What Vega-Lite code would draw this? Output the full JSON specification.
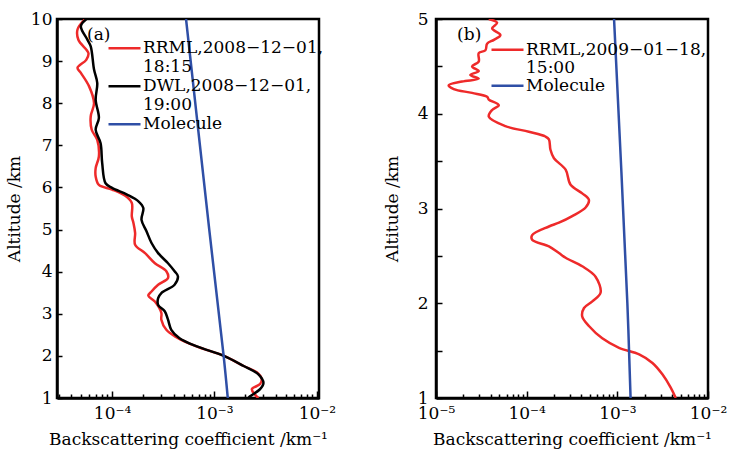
{
  "$schema": "https://vega.github.io/schema/vega-lite/v6.json",
  "padding": {"left": 4, "top": 8, "right": 5, "bottom": 5},
  "spacing": 44,
  "config": {
    "font": "DejaVu Serif",
    "view": {"stroke": "black", "strokeWidth": 2.5},
    "axis": {
      "grid": false,
      "labelFont": "DejaVu Serif",
      "titleFont": "DejaVu Serif",
      "labelFontSize": 17,
      "titleFontSize": 17,
      "titleFontWeight": "normal",
      "labelColor": "black",
      "titleColor": "black",
      "domainColor": "black",
      "domainWidth": 2.5,
      "tickColor": "black",
      "tickWidth": 1.5,
      "labelFlush": false,
      "labelOverlap": false
    },
    "legend": {"labelFont": "DejaVu Serif", "labelFontSize": 17, "labelColor": "black", "labelLimit": 400, "gridAlign": "all"}
  },
  "datasets": {
    "a": [
      {"s": "RRML", "alt": 10.0, "v": 5.46e-5},
      {"s": "RRML", "alt": 9.75, "v": 4.6e-5},
      {"s": "RRML", "alt": 9.5, "v": 4.7e-5},
      {"s": "RRML", "alt": 9.19, "v": 5.88e-5},
      {"s": "RRML", "alt": 9.03, "v": 5.6e-5},
      {"s": "RRML", "alt": 8.84, "v": 4.6e-5},
      {"s": "RRML", "alt": 8.72, "v": 4.96e-5},
      {"s": "RRML", "alt": 8.4, "v": 5.97e-5},
      {"s": "RRML", "alt": 8.0, "v": 6.67e-5},
      {"s": "RRML", "alt": 7.69, "v": 6.19e-5},
      {"s": "RRML", "alt": 7.37, "v": 6.33e-5},
      {"s": "RRML", "alt": 7.13, "v": 7.17e-5},
      {"s": "RRML", "alt": 6.74, "v": 7.44e-5},
      {"s": "RRML", "alt": 6.46, "v": 6.92e-5},
      {"s": "RRML", "alt": 6.26, "v": 6.92e-5},
      {"s": "RRML", "alt": 6.06, "v": 7.44e-5},
      {"s": "RRML", "alt": 5.95, "v": 1.0e-4},
      {"s": "RRML", "alt": 5.8, "v": 1.346e-4},
      {"s": "RRML", "alt": 5.63, "v": 1.56e-4},
      {"s": "RRML", "alt": 5.31, "v": 1.56e-4},
      {"s": "RRML", "alt": 5.15, "v": 1.62e-4},
      {"s": "RRML", "alt": 4.92, "v": 1.68e-4},
      {"s": "RRML", "alt": 4.64, "v": 1.68e-4},
      {"s": "RRML", "alt": 4.44, "v": 2.1e-4},
      {"s": "RRML", "alt": 4.2, "v": 2.62e-4},
      {"s": "RRML", "alt": 4.01, "v": 3.39e-4},
      {"s": "RRML", "alt": 3.85, "v": 3.52e-4},
      {"s": "RRML", "alt": 3.69, "v": 2.82e-4},
      {"s": "RRML", "alt": 3.53, "v": 2.43e-4},
      {"s": "RRML", "alt": 3.43, "v": 2.26e-4},
      {"s": "RRML", "alt": 3.29, "v": 2.62e-4},
      {"s": "RRML", "alt": 3.02, "v": 3.03e-4},
      {"s": "RRML", "alt": 2.86, "v": 3.03e-4},
      {"s": "RRML", "alt": 2.62, "v": 3.39e-4},
      {"s": "RRML", "alt": 2.47, "v": 4.08e-4},
      {"s": "RRML", "alt": 2.31, "v": 5.48e-4},
      {"s": "RRML", "alt": 2.16, "v": 7.94e-4},
      {"s": "RRML", "alt": 2.0, "v": 1.236e-3},
      {"s": "RRML", "alt": 1.76, "v": 1.93e-3},
      {"s": "RRML", "alt": 1.61, "v": 2.59e-3},
      {"s": "RRML", "alt": 1.45, "v": 2.89e-3},
      {"s": "RRML", "alt": 1.33, "v": 2.79e-3},
      {"s": "RRML", "alt": 1.21, "v": 2.32e-3},
      {"s": "RRML", "alt": 1.08, "v": 2.49e-3},
      {"s": "RRML", "alt": 1.0, "v": 2.69e-3},
      {"s": "DWL", "alt": 10.0, "v": 5.62e-5},
      {"s": "DWL", "alt": 9.83, "v": 4.96e-5},
      {"s": "DWL", "alt": 9.51, "v": 5.74e-5},
      {"s": "DWL", "alt": 9.35, "v": 6.19e-5},
      {"s": "DWL", "alt": 8.8, "v": 6.67e-5},
      {"s": "DWL", "alt": 8.48, "v": 7.17e-5},
      {"s": "DWL", "alt": 8.08, "v": 6.92e-5},
      {"s": "DWL", "alt": 7.65, "v": 7.44e-5},
      {"s": "DWL", "alt": 7.37, "v": 6.92e-5},
      {"s": "DWL", "alt": 7.05, "v": 7.73e-5},
      {"s": "DWL", "alt": 6.58, "v": 8.01e-5},
      {"s": "DWL", "alt": 6.1, "v": 8.64e-5},
      {"s": "DWL", "alt": 5.99, "v": 1.0e-4},
      {"s": "DWL", "alt": 5.83, "v": 1.4e-4},
      {"s": "DWL", "alt": 5.67, "v": 1.81e-4},
      {"s": "DWL", "alt": 5.51, "v": 2.02e-4},
      {"s": "DWL", "alt": 5.23, "v": 1.94e-4},
      {"s": "DWL", "alt": 4.96, "v": 2.17e-4},
      {"s": "DWL", "alt": 4.68, "v": 2.43e-4},
      {"s": "DWL", "alt": 4.44, "v": 2.82e-4},
      {"s": "DWL", "alt": 4.2, "v": 3.52e-4},
      {"s": "DWL", "alt": 4.01, "v": 4.08e-4},
      {"s": "DWL", "alt": 3.89, "v": 4.4e-4},
      {"s": "DWL", "alt": 3.69, "v": 4.08e-4},
      {"s": "DWL", "alt": 3.49, "v": 3.03e-4},
      {"s": "DWL", "alt": 3.37, "v": 2.82e-4},
      {"s": "DWL", "alt": 3.21, "v": 2.82e-4},
      {"s": "DWL", "alt": 3.06, "v": 3.27e-4},
      {"s": "DWL", "alt": 2.86, "v": 3.52e-4},
      {"s": "DWL", "alt": 2.62, "v": 3.79e-4},
      {"s": "DWL", "alt": 2.42, "v": 4.56e-4},
      {"s": "DWL", "alt": 2.22, "v": 6.84e-4},
      {"s": "DWL", "alt": 2.0, "v": 1.236e-3},
      {"s": "DWL", "alt": 1.76, "v": 1.93e-3},
      {"s": "DWL", "alt": 1.56, "v": 2.69e-3},
      {"s": "DWL", "alt": 1.36, "v": 3.01e-3},
      {"s": "DWL", "alt": 1.21, "v": 2.79e-3},
      {"s": "DWL", "alt": 1.04, "v": 2.23e-3},
      {"s": "DWL", "alt": 1.0, "v": 2.15e-3},
      {"s": "Molecule", "alt": 1.0, "v": 1.35e-3},
      {"s": "Molecule", "alt": 2.0, "v": 1.23e-3},
      {"s": "Molecule", "alt": 5.0, "v": 8.9e-4},
      {"s": "Molecule", "alt": 10.0, "v": 5.28e-4}
    ],
    "b": [
      {"s": "RRML", "alt": 5.0, "v": 3.82e-5},
      {"s": "RRML", "alt": 4.96, "v": 4.72e-5},
      {"s": "RRML", "alt": 4.9, "v": 4.16e-5},
      {"s": "RRML", "alt": 4.83, "v": 5.13e-5},
      {"s": "RRML", "alt": 4.78, "v": 4.35e-5},
      {"s": "RRML", "alt": 4.74, "v": 3.66e-5},
      {"s": "RRML", "alt": 4.67, "v": 3.51e-5},
      {"s": "RRML", "alt": 4.64, "v": 2.96e-5},
      {"s": "RRML", "alt": 4.55, "v": 2.96e-5},
      {"s": "RRML", "alt": 4.5, "v": 2.5e-5},
      {"s": "RRML", "alt": 4.45, "v": 2.96e-5},
      {"s": "RRML", "alt": 4.41, "v": 2.39e-5},
      {"s": "RRML", "alt": 4.37, "v": 2.96e-5},
      {"s": "RRML", "alt": 4.34, "v": 1.94e-5},
      {"s": "RRML", "alt": 4.3, "v": 1.38e-5},
      {"s": "RRML", "alt": 4.26, "v": 1.57e-5},
      {"s": "RRML", "alt": 4.22, "v": 2.5e-5},
      {"s": "RRML", "alt": 4.18, "v": 3.66e-5},
      {"s": "RRML", "alt": 4.15, "v": 3.82e-5},
      {"s": "RRML", "alt": 4.09, "v": 4.93e-5},
      {"s": "RRML", "alt": 4.04, "v": 4.16e-5},
      {"s": "RRML", "alt": 3.97, "v": 3.82e-5},
      {"s": "RRML", "alt": 3.87, "v": 5.83e-5},
      {"s": "RRML", "alt": 3.81, "v": 1.057e-4},
      {"s": "RRML", "alt": 3.76, "v": 1.61e-4},
      {"s": "RRML", "alt": 3.73, "v": 1.76e-4},
      {"s": "RRML", "alt": 3.62, "v": 1.83e-4},
      {"s": "RRML", "alt": 3.53, "v": 2.0e-4},
      {"s": "RRML", "alt": 3.41, "v": 2.69e-4},
      {"s": "RRML", "alt": 3.25, "v": 3.05e-4},
      {"s": "RRML", "alt": 3.16, "v": 4.1e-4},
      {"s": "RRML", "alt": 3.09, "v": 4.86e-4},
      {"s": "RRML", "alt": 3.01, "v": 4.47e-4},
      {"s": "RRML", "alt": 2.92, "v": 3.18e-4},
      {"s": "RRML", "alt": 2.85, "v": 2.27e-4},
      {"s": "RRML", "alt": 2.81, "v": 1.76e-4},
      {"s": "RRML", "alt": 2.72, "v": 1.15e-4},
      {"s": "RRML", "alt": 2.67, "v": 1.15e-4},
      {"s": "RRML", "alt": 2.6, "v": 1.76e-4},
      {"s": "RRML", "alt": 2.53, "v": 2.27e-4},
      {"s": "RRML", "alt": 2.48, "v": 2.69e-4},
      {"s": "RRML", "alt": 2.39, "v": 4.1e-4},
      {"s": "RRML", "alt": 2.28, "v": 5.75e-4},
      {"s": "RRML", "alt": 2.11, "v": 6.53e-4},
      {"s": "RRML", "alt": 2.02, "v": 5.3e-4},
      {"s": "RRML", "alt": 1.95, "v": 4.29e-4},
      {"s": "RRML", "alt": 1.86, "v": 4.1e-4},
      {"s": "RRML", "alt": 1.76, "v": 4.86e-4},
      {"s": "RRML", "alt": 1.63, "v": 6.82e-4},
      {"s": "RRML", "alt": 1.53, "v": 1.044e-3},
      {"s": "RRML", "alt": 1.46, "v": 1.74e-3},
      {"s": "RRML", "alt": 1.37, "v": 2.44e-3},
      {"s": "RRML", "alt": 1.25, "v": 3.14e-3},
      {"s": "RRML", "alt": 1.11, "v": 3.88e-3},
      {"s": "RRML", "alt": 1.0, "v": 4.41e-3},
      {"s": "Molecule", "alt": 1.0, "v": 1.4e-3},
      {"s": "Molecule", "alt": 2.0, "v": 1.29e-3},
      {"s": "Molecule", "alt": 5.0, "v": 9.2e-4}
    ],
    "labA": [{"label": "(a)", "v": 5.7e-5, "alt": 9.62}],
    "labB": [{"label": "(b)", "v": 1.71e-5, "alt": 4.834}]
  },
  "resolve": {"scale": {"color": "independent"}, "legend": {"color": "independent"}},
  "hconcat": [
    {
      "width": 262,
      "height": 379,
      "layer": [
        {
          "data": {"name": "a"},
          "mark": {"type": "line", "strokeWidth": 2.5, "clip": true, "interpolate": "catmull-rom"},
          "encoding": {
            "x": {
              "field": "v", "type": "quantitative",
              "scale": {"type": "log", "domain": [2.9e-5, 1.05e-2], "nice": false},
              "axis": {
                "title": "Backscattering coefficient /km⁻¹",
                "values": [3e-5, 4e-5, 5e-5, 6e-5, 7e-5, 8e-5, 9e-5, 1e-4, 2e-4, 3e-4, 4e-4, 5e-4, 6e-4, 7e-4, 8e-4, 9e-4, 1e-3, 2e-3, 3e-3, 4e-3, 5e-3, 6e-3, 7e-3, 8e-3, 9e-3, 1e-2],
                "labelExpr": "datum.value > 0.99e-4 && datum.value < 1.01e-4 ? '10⁻⁴' : datum.value > 0.99e-3 && datum.value < 1.01e-3 ? '10⁻³' : datum.value > 0.99e-2 && datum.value < 1.01e-2 ? '10⁻²' : ''",
                "tickSize": {"condition": {"test": "abs(log(datum.value)/LN10 - round(log(datum.value)/LN10)) < 0.01", "value": -7}, "value": -4},
                "labelPadding": 14,
                "titlePadding": 7
              }
            },
            "y": {
              "field": "alt", "type": "quantitative",
              "scale": {"domain": [1, 10], "nice": false, "zero": false},
              "axis": {
                "title": "Altitude /km",
                "values": [1, 1.5, 2, 2.5, 3, 3.5, 4, 4.5, 5, 5.5, 6, 6.5, 7, 7.5, 8, 8.5, 9, 9.5, 10],
                "labelExpr": "datum.value % 1 == 0 ? format(datum.value, 'd') : ''",
                "tickSize": -5,
                "labelPadding": 10,
                "titlePadding": 7
              }
            },
            "color": {
              "field": "s", "type": "nominal",
              "scale": {"domain": ["RRML", "RRML_t", "DWL", "DWL_t", "Molecule"], "range": ["#ee2a2a", "transparent", "#000000", "transparent", "#2f4fa6"]},
              "legend": {
                "title": null, "orient": "none", "legendX": 50, "legendY": 20,
                "padding": 0, "rowPadding": -2.5, "clipHeight": 18.5, "gridAlign": "all",
                "symbolType": "stroke", "symbolSize": 1024, "symbolStrokeWidth": 2.5,
                "labelOffset": 1,
                "labelExpr": "datum.label == 'RRML' ? 'RRML,2008−12−01,' : datum.label == 'RRML_t' ? '18:15' : datum.label == 'DWL' ? 'DWL,2008−12−01,' : datum.label == 'DWL_t' ? '19:00' : 'Molecule'"
              }
            },
            "order": {"field": "alt", "type": "quantitative"}
          }
        },
        {
          "data": {"name": "labA"},
          "mark": {"type": "text", "align": "left", "baseline": "middle", "fontSize": 17, "font": "DejaVu Serif", "color": "black"},
          "encoding": {
            "x": {"field": "v", "type": "quantitative"},
            "y": {"field": "alt", "type": "quantitative"},
            "text": {"field": "label"}
          }
        }
      ]
    },
    {
      "width": 272,
      "height": 379,
      "layer": [
        {
          "data": {"name": "b"},
          "mark": {"type": "line", "strokeWidth": 2.5, "clip": true, "interpolate": "catmull-rom"},
          "encoding": {
            "x": {
              "field": "v", "type": "quantitative",
              "scale": {"type": "log", "domain": [1e-5, 1e-2], "nice": false},
              "axis": {
                "title": "Backscattering coefficient /km⁻¹",
                "values": [1e-5, 2e-5, 3e-5, 4e-5, 5e-5, 6e-5, 7e-5, 8e-5, 9e-5, 1e-4, 2e-4, 3e-4, 4e-4, 5e-4, 6e-4, 7e-4, 8e-4, 9e-4, 1e-3, 2e-3, 3e-3, 4e-3, 5e-3, 6e-3, 7e-3, 8e-3, 9e-3, 1e-2],
                "labelExpr": "datum.value > 0.99e-5 && datum.value < 1.01e-5 ? '10⁻⁵' : datum.value > 0.99e-4 && datum.value < 1.01e-4 ? '10⁻⁴' : datum.value > 0.99e-3 && datum.value < 1.01e-3 ? '10⁻³' : datum.value > 0.99e-2 && datum.value < 1.01e-2 ? '10⁻²' : ''",
                "tickSize": {"condition": {"test": "abs(log(datum.value)/LN10 - round(log(datum.value)/LN10)) < 0.01", "value": -7}, "value": -4},
                "labelPadding": 14,
                "titlePadding": 7
              }
            },
            "y": {
              "field": "alt", "type": "quantitative",
              "scale": {"domain": [1, 5], "nice": false, "zero": false},
              "axis": {
                "title": "Altitude /km",
                "values": [1, 1.5, 2, 2.5, 3, 3.5, 4, 4.5, 5],
                "labelExpr": "datum.value % 1 == 0 ? format(datum.value, 'd') : ''",
                "tickSize": -6,
                "labelPadding": 14,
                "titlePadding": 16
              }
            },
            "color": {
              "field": "s", "type": "nominal",
              "scale": {"domain": ["RRML", "RRML_t", "Molecule"], "range": ["#ee2a2a", "transparent", "#2f4fa6"]},
              "legend": {
                "title": null, "orient": "none", "legendX": 54, "legendY": 22,
                "padding": 0, "rowPadding": -3.5, "clipHeight": 17.5, "gridAlign": "all",
                "symbolType": "stroke", "symbolSize": 1024, "symbolStrokeWidth": 2.5,
                "labelOffset": 1,
                "labelExpr": "datum.label == 'RRML' ? 'RRML,2009−01−18,' : datum.label == 'RRML_t' ? '15:00' : 'Molecule'"
              }
            },
            "order": {"field": "alt", "type": "quantitative"}
          }
        },
        {
          "data": {"name": "labB"},
          "mark": {"type": "text", "align": "left", "baseline": "middle", "fontSize": 17, "font": "DejaVu Serif", "color": "black"},
          "encoding": {
            "x": {"field": "v", "type": "quantitative"},
            "y": {"field": "alt", "type": "quantitative"},
            "text": {"field": "label"}
          }
        }
      ]
    }
  ]
}
